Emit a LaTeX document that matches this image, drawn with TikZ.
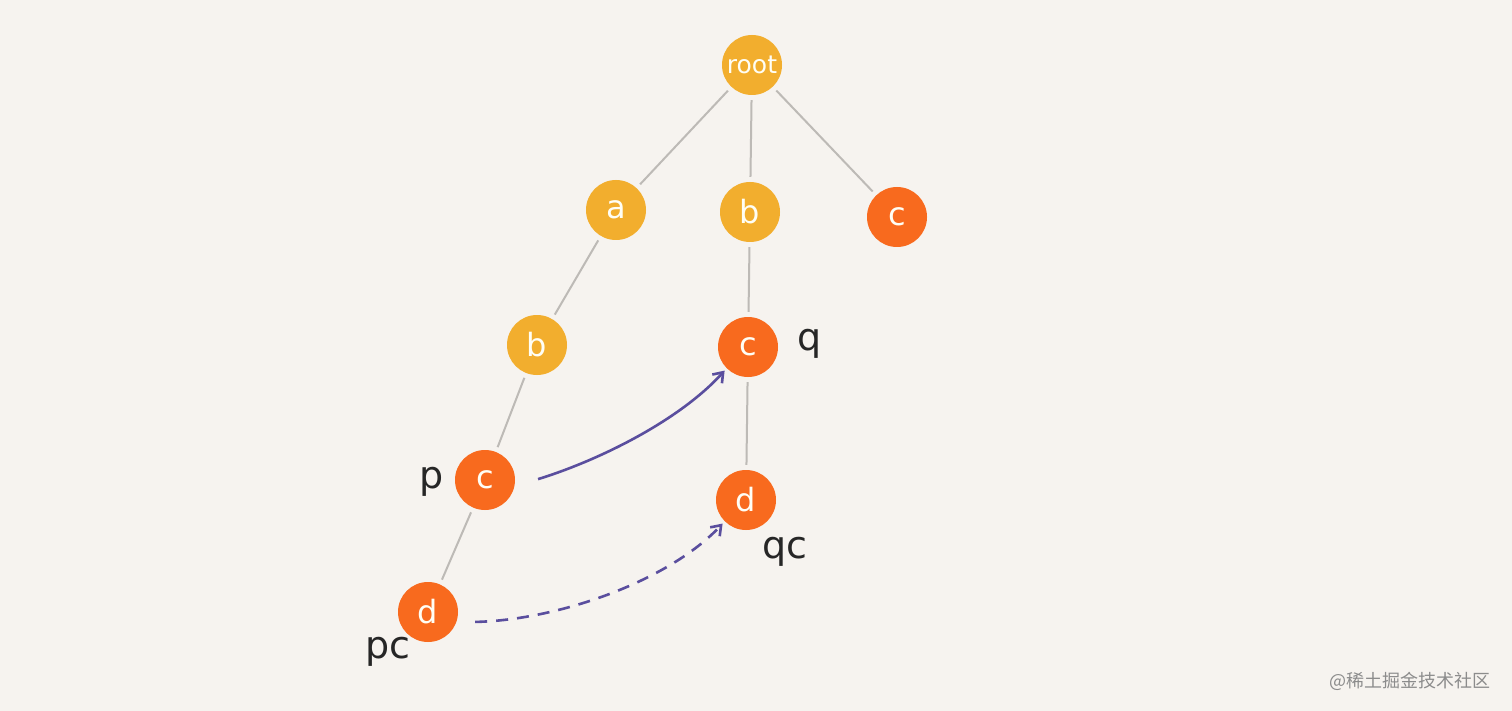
\documentclass[tikz,border=0pt]{standalone}
\usepackage{fontspec}
\newfontfamily\cjk{Noto Sans CJK SC}
\newfontfamily\lab{DejaVu Sans}
\usetikzlibrary{arrows.meta}
\definecolor{bg}{HTML}{F6F3EF}
\definecolor{yel}{HTML}{F2AE2E}
\definecolor{org}{HTML}{F86A1E}
\definecolor{edgegray}{HTML}{BDBAB6}
\definecolor{purp}{HTML}{5A4E9E}
\begin{document}
\begin{tikzpicture}[x=1pt,y=-1pt,
  tn/.style={circle,minimum size=60pt,inner sep=0pt,text=white!96!yellow,font=\lab\fontsize{32}{32}\selectfont},
  yn/.style={tn,fill=yel},
  on/.style={tn,fill=org},
  tedge/.style={draw=edgegray,line width=2pt,shorten >=5pt,shorten <=5pt},
  link/.style={draw=purp,line width=2.6pt,-{Straight Barb[length=9pt,width=13pt]},shorten >=3pt,shorten <=3pt},
  lbl/.style={font=\lab\fontsize{38}{38}\selectfont,text=black!85}]
\fill[bg] (0,0) rectangle (1512,711);
\useasboundingbox (0,0) rectangle (1512,711);
\node[yn,font=\lab\fontsize{25}{25}\selectfont] (root) at (752,65) {root};
\node[yn] (a) at (616,210) {a};
\node[yn] (b1) at (750,212) {b};
\node[on] (c1) at (897,217) {c};
\node[yn] (b2) at (537,345) {b};
\node[on] (q) at (748,347) {c};
\node[on] (p) at (485,480) {c};
\node[on] (qc) at (746,500) {d};
\node[on] (pc) at (428,612) {d};
\draw[tedge] (root) -- (a);
\draw[tedge] (root) -- (b1);
\draw[tedge] (root) -- (c1);
\draw[tedge] (a) -- (b2);
\draw[tedge] (b1) -- (q);
\draw[tedge] (b2) -- (p);
\draw[tedge] (q) -- (qc);
\draw[tedge] (p) -- (pc);
\draw[link] ([xshift=20pt]p.east) .. controls (600,460) and (680,420) .. (q.south west);
\draw[link,dashed,dash pattern=on 12pt off 9pt] ([xshift=14pt,yshift=-10pt]pc.east) .. controls (560,620) and (670,580) .. (qc.south west);
\node[lbl] (lp) at (432,482) {p};
\node[lbl] (lq) at (810,344) {q};
\node[lbl] (lqc) at (785,552) {qc};
\node[lbl] (lpc) at (388,652) {pc};
\node[font=\cjk\fontsize{18}{18}\selectfont,text=black!45] (wm) at (1410,681) {@稀土掘金技术社区};
\end{tikzpicture}
\end{document}
